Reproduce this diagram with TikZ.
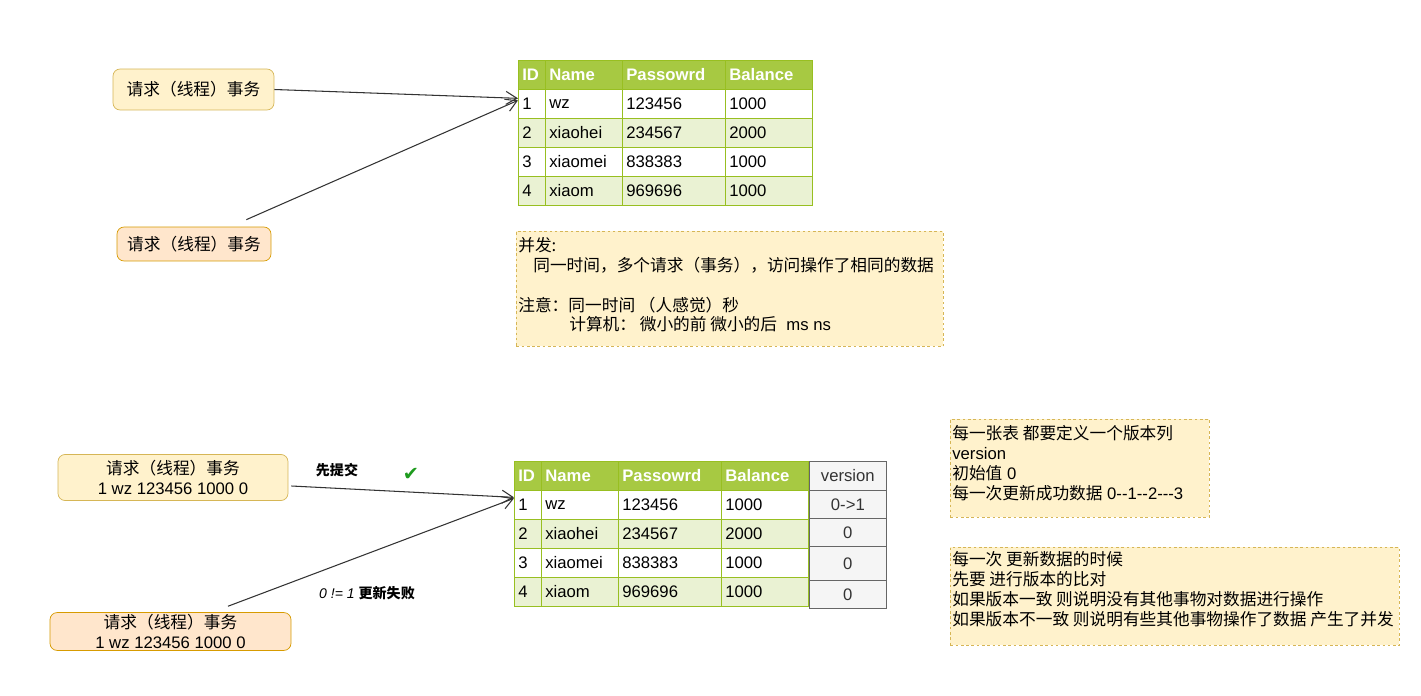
\documentclass[tikz,border=0pt]{standalone}
\usepackage{fontspec}
\usepackage{xcolor}
\usepackage{tikz}
\usetikzlibrary{arrows.meta}
\setmainfont{Liberation Sans}
\newfontfamily\cjk{Noto Sans CJK SC}
\newfontfamily\symb{DejaVu Sans}
\definecolor{reqfill}{HTML}{FFF2CC}
\definecolor{reqline}{HTML}{D6B656}
\definecolor{waitfill}{HTML}{FFE6CC}
\definecolor{waitline}{HTML}{D79B00}
\definecolor{headgreen}{HTML}{A7C942}
\definecolor{rowgreen}{HTML}{EAF2D3}
\definecolor{gridgreen}{HTML}{98BF21}
\definecolor{verfill}{HTML}{F5F5F5}
\definecolor{verline}{HTML}{666666}
\definecolor{okgreen}{HTML}{1E9B1E}
\definecolor{inkgray}{HTML}{333333}
\newcommand{\txtsize}{\fontsize{9.5}{11.3}\selectfont}
\tikzset{
  req/.style={draw=reqline, fill=reqfill, rounded corners=4pt, align=center, font=\txtsize},
  wait/.style={draw=waitline, fill=waitfill, rounded corners=4pt, align=center, font=\txtsize},
  cell/.style={draw=gridgreen, anchor=north west, minimum height=0.58cm, inner xsep=0.08cm, inner ysep=0pt, align=left, font=\txtsize},
  head/.style={fill=headgreen, text=white, font=\txtsize\bfseries},
  vercell/.style={draw=verline, fill=verfill, anchor=north west, minimum width=1.54cm, text=inkgray, font=\txtsize},
  note/.style={draw=reqline, fill=reqfill, dash pattern=on 1.5pt off 1.5pt, anchor=north west},
  notetext/.style={anchor=north west, align=left, inner sep=0pt, font=\txtsize},
  conn/.style={draw=inkgray, line width=0.6pt, -{Straight Barb[length=2.2mm,width=2.6mm]}}
}
% one table row: prefix, x, y, style, id, name, password, balance
\newcommand{\tabrow}[8]{%
  \node[cell, #4, text width=0.38cm] (#1id) at (#2,#3) {#5};
  \node[cell, #4, text width=1.38cm] (#1nm) at (#2+27,#3) {#6};
  \node[cell, #4, text width=1.90cm] (#1pw) at (#2+104,#3) {#7};
  \node[cell, #4, text width=1.58cm] (#1bal) at (#2+207,#3) {#8};
}
\begin{document}
\begin{tikzpicture}[x=0.02cm, y=-0.02cm]
    \useasboundingbox[fill=white] (0,0) rectangle (1421,696);

    % Requests hitting the same row
    \node[req, minimum width=3.22cm, minimum height=0.82cm] (reqA) at (193.5,89.5) {{\cjk 请求（线程）事务}};
    \node[wait, minimum width=3.08cm, minimum height=0.68cm] (reqB) at (194,244) {{\cjk 请求（线程）事务}};

    % Account table
    \tabrow{tah}{518}{60}{head}{ID}{Name}{Passowrd}{Balance}
    \tabrow{ta1}{518}{89}{fill=white}{1}{wz}{123456}{1000}
    \tabrow{ta2}{518}{118}{fill=rowgreen}{2}{xiaohei}{234567}{2000}
    \tabrow{ta3}{518}{147}{fill=white}{3}{xiaomei}{838383}{1000}
    \tabrow{ta4}{518}{176}{fill=rowgreen}{4}{xiaom}{969696}{1000}

    \draw[conn] (reqA.east) -- ([yshift=0.11cm]ta1id.west);
    \draw[conn] ([xshift=-0.5cm,yshift=0.14cm]reqB.north east) -- ([yshift=0.07cm]ta1id.west);

    % Concurrency note
    \node[note, minimum width=8.54cm, minimum height=2.3cm] (noteA) at (516,231) {};
    \node[notetext] (noteAtext) at (518,237) {{\cjk 并发:}\\
        \hspace{0.3cm}{\cjk 同一时间，多个请求（事务），访问操作了相同的数据}\\[11.3pt]
        {\cjk 注意：同一时间 （人感觉）秒}\\
        \hspace{1.02cm}{\cjk 计算机： 微小的前 微小的后}\ \ ms ns};

    % Optimistic lock: requests with version
    \node[req, minimum width=4.6cm, minimum height=0.82cm] (reqC) at (173,477.5) {{\cjk 请求（线程）事务}\\1 wz 123456 1000 0};
    \node[wait, minimum width=4.82cm, minimum height=0.7cm, inner ysep=1pt] (reqD) at (170.5,631.5) {{\cjk 请求（线程）事务}\\1 wz 123456 1000 0};

    % Account table with version column
    \tabrow{tbh}{514}{461}{head}{ID}{Name}{Passowrd}{Balance}
    \tabrow{tb1}{514}{490}{fill=white}{1}{wz}{123456}{1000}
    \tabrow{tb2}{514}{519}{fill=rowgreen}{2}{xiaohei}{234567}{2000}
    \tabrow{tb3}{514}{548}{fill=white}{3}{xiaomei}{838383}{1000}
    \tabrow{tb4}{514}{577}{fill=rowgreen}{4}{xiaom}{969696}{1000}

    \node[vercell, minimum height=0.58cm] (verh) at (809,461) {version};
    \node[vercell, minimum height=0.56cm] (ver1) at (809,490) {0->1};
    \node[vercell, minimum height=0.56cm] (ver2) at (809,518) {0};
    \node[vercell, minimum height=0.68cm] (ver3) at (809,546) {0};
    \node[vercell, minimum height=0.56cm] (ver4) at (809,580) {0};

    \draw[conn] ([xshift=0.06cm,yshift=-0.17cm]reqC.east) -- ([yshift=0.15cm]tb1id.west);
    \draw[conn] ([xshift=1.15cm,yshift=0.12cm]reqD.north) -- ([yshift=0.13cm]tb1id.west);

    \node[font=\fontsize{8}{10}\selectfont\cjk\bfseries] (commit) at (337,470) {先提交};
    \node[text=okgreen, font=\fontsize{11}{12}\selectfont\symb] (tick) at (411,474) {✔};
    \node[font=\fontsize{8}{10}\selectfont] (fail) at (367,593) {{\itshape 0 != 1} {\cjk\bfseries 更新失败}};

    % Version notes
    \node[note, minimum width=5.18cm, minimum height=1.96cm] (noteB) at (950,419) {};
    \node[notetext] (noteBtext) at (952,425) {{\cjk 每一张表 都要定义一个版本列}\\
        version\\
        {\cjk 初始值} 0\\
        {\cjk 每一次更新成功数据} 0-{}-1-{}-2-{}-{}-3};

    \node[note, minimum width=8.98cm, minimum height=1.96cm] (noteC) at (950,547) {};
    \node[notetext] (noteCtext) at (952,551) {{\cjk 每一次 更新数据的时候}\\
        {\cjk 先要 进行版本的比对}\\
        {\cjk 如果版本一致 则说明没有其他事物对数据进行操作}\\
        {\cjk 如果版本不一致 则说明有些其他事物操作了数据 产生了并发}};
\end{tikzpicture}
\end{document}
